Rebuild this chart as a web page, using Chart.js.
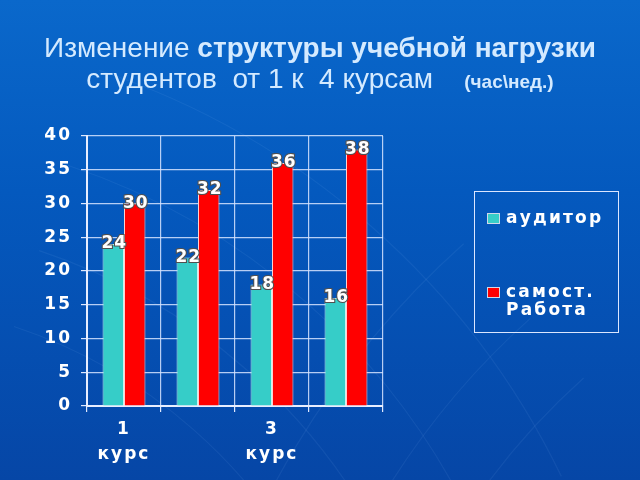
<!DOCTYPE html>
<html>
<head>
<meta charset="utf-8">
<script src="https://cdn.jsdelivr.net/npm/chart.js@4/dist/chart.umd.min.js"></script>
<style>
  html, body { margin: 0; padding: 0; }
  body {
    width: 640px; height: 480px; overflow: hidden; position: relative;
    background: linear-gradient(180deg, #0a68cb 0%, #0459be 40%, #0646a6 100%);
    font-family: "Liberation Sans", Arial, sans-serif;
  }
  #chart { position: absolute; left: 0; top: 0; }
  #title {
    position: absolute; left: 0; top: 32px; width: 640px; text-align: center;
    color: #d4eaff; font-size: 28px; line-height: 31px; white-space: pre;
  }
  #title b { font-weight: bold; }
  #title .unit { font-size: 19px; font-weight: bold; }
  #legend {
    position: absolute; left: 474px; top: 191px; width: 145px; height: 142px;
    border: 1.5px solid #dbe6ff; box-sizing: border-box;
    font-family: "DejaVu Sans", sans-serif; font-weight: bold; font-size: 17px;
    letter-spacing: 2.2px; color: #fff;
  }
  .item { position: absolute; left: 12px; display: flex; align-items: flex-start; line-height: 18px; }
  .sw { width: 11px; height: 9px; margin: 5px 6px 0 0; border: 1px solid #d0d8e8; flex: none; }
</style>
</head>
<body>
<canvas id="chart" width="640" height="480"></canvas>
<div id="title">Изменение <b>структуры учебной нагрузки</b>
студентов  от 1 к  4 курсам    <span class="unit">(час\нед.)</span></div>
<div id="legend"></div>
<script>
// Часы в неделю по курсам
const COURSES = ['1 курс', '2 курс', '3 курс', '4 курс'];
const AUDIT = [24, 22, 18, 16];
const SAMOST = [30, 32, 36, 38];
const SERIES = ['аудитор', 'самост. Работа'];
const COLORS = ['#36cdc8', '#ff0000'];
const Y_MIN = 0, Y_MAX = 40, Y_STEP = 5;

const TICK_FONT = { family: 'DejaVu Sans', size: 17, weight: 'bold' };
const GRID = 'rgba(215, 228, 255, 0.85)';

// весь текст на слайде очень широкий
const spacing = {
  id: 'spacing',
  beforeUpdate(chart) { chart.ctx.letterSpacing = '2px'; },
  beforeDraw(chart) {
    const ctx = chart.ctx;
    ctx.letterSpacing = '2px';
    // тонкие линии "глобуса" на фоне
    ctx.save();
    ctx.strokeStyle = 'rgba(170, 200, 255, 0.08)';
    ctx.lineWidth = 1.2;
    for (const r of [520, 600, 690, 790]) {
      ctx.beginPath();
      ctx.arc(-150, 820, r, -1.25, -0.45);
      ctx.stroke();
    }
    for (const r of [700, 780, 880]) {
      ctx.beginPath();
      ctx.arc(1050, 900, r, -2.9, -2.3);
      ctx.stroke();
    }
    ctx.restore();
  }
};

const barValues = {
  id: 'barValues',
  afterDatasetsDraw(chart) {
    const ctx = chart.ctx;
    ctx.save();
    ctx.letterSpacing = '1px';
    ctx.font = 'bold 17px "DejaVu Sans"';
    ctx.textAlign = 'center';
    ctx.textBaseline = 'middle';
    ctx.lineWidth = 2.2;
    ctx.strokeStyle = '#505050';
    ctx.fillStyle = '#ffffff';
    chart.data.datasets.forEach((ds, i) => {
      chart.getDatasetMeta(i).data.forEach((bar, j) => {
        const t = String(ds.data[j]);
        ctx.strokeText(t, bar.x + 1, bar.y);
        ctx.fillText(t, bar.x + 1, bar.y);
      });
    });
    ctx.restore();
  }
};

const chart = new Chart(document.getElementById('chart'), {
  type: 'bar',
  data: {
    labels: COURSES,
    datasets: [
      { label: SERIES[0], data: AUDIT, backgroundColor: COLORS[0], borderColor: '#c8f2f0', borderWidth: 1 },
      { label: SERIES[1], data: SAMOST, backgroundColor: COLORS[1], borderColor: '#ffd0d0', borderWidth: 1 }
    ]
  },
  options: {
    responsive: false,
    animation: false,
    layout: { padding: { left: 27, top: 136, right: 257, bottom: 0 } },
    datasets: { bar: { categoryPercentage: 0.58, barPercentage: 1.0 } },
    plugins: {
      legend: { display: false },
      tooltip: { enabled: false }
    },
    scales: {
      x: {
        afterFit: s => { s.height = 74; },
        grid: { color: GRID, lineWidth: 1.2, tickLength: 6, tickColor: '#dfe8ff' },
        border: { color: '#e8eeff', width: 2 },
        ticks: {
          color: '#ffffff', font: { ...TICK_FONT, lineHeight: 1.42 }, padding: 6,
          autoSkip: false, maxRotation: 0,
          callback(v, i) { return i % 2 === 0 ? this.getLabelForValue(v).split(' ') : ''; }
        }
      },
      y: {
        min: Y_MIN, max: Y_MAX,
        afterFit: s => { s.width = 60; },
        grid: { color: GRID, lineWidth: 1.2, tickLength: 6, tickColor: '#dfe8ff' },
        border: { color: '#e8eeff', width: 2 },
        ticks: { stepSize: Y_STEP, color: '#ffffff', font: TICK_FONT, padding: 9 }
      }
    }
  },
  plugins: [spacing, barValues]
});

// легенда в рамке справа
const legendTops = [16, 90];
const legend = document.getElementById('legend');
SERIES.forEach((name, i) => {
  const item = document.createElement('div');
  item.className = 'item';
  item.style.top = legendTops[i] + 'px';
  const sw = document.createElement('span');
  sw.className = 'sw';
  sw.style.background = COLORS[i];
  const txt = document.createElement('span');
  txt.innerHTML = name.split(' ').join('<br>');
  item.appendChild(sw);
  item.appendChild(txt);
  legend.appendChild(item);
});
</script>
</body>
</html>
